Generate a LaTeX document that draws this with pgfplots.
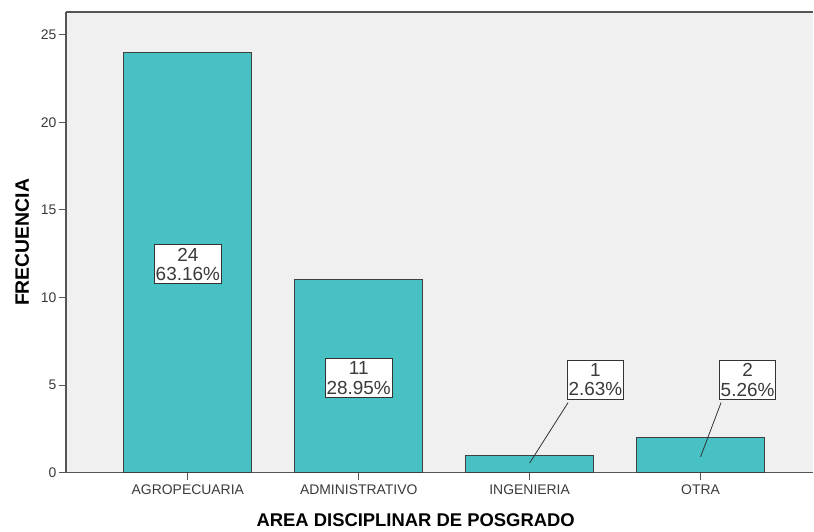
\documentclass[border=0pt]{standalone}
\usepackage{fontspec}
\setmainfont{Liberation Sans}
\usepackage{pgfplots}
\pgfplotsset{compat=1.18}

\definecolor{barfill}{HTML}{47C1C4}
\definecolor{plotbg}{HTML}{F0F0F0}
\definecolor{axisgray}{HTML}{555555}
\definecolor{txtgray}{HTML}{3A3A3A}

\begin{document}
\begin{tikzpicture}
\begin{axis}[
    scale only axis,
    width=748bp, height=461bp,
    xmin=-0.713, xmax=3.66,
    ymin=0, ymax=26.3,
    axis x line*=bottom,
    axis y line*=left,
    axis line style={axisgray, line width=1.3pt},
    axis background/.style={fill=plotbg},
    xtick={0,1,2,3},
    xticklabels={AGROPECUARIA, ADMINISTRATIVO, INGENIERIA, OTRA},
    ytick={0,5,10,15,20,25},
    tick align=outside,
    tick style={axisgray, line width=1pt},
    major tick length=7bp,
    tick label style={font=\fontsize{14}{15}\selectfont, text=txtgray},
    xticklabel style={yshift=-2bp},
    yticklabel style={xshift=1bp},
    /pgf/number format/assume math mode=true,
    xlabel={\textbf{AREA DISCIPLINAR DE POSGRADO}},
    ylabel={\textbf{FRECUENCIA}},
    xlabel style={font=\fontsize{18.5}{20}\selectfont, yshift=-12bp, xshift=-24bp},
    ylabel style={font=\fontsize{19.5}{21}\selectfont, yshift=5bp},
    clip=false,
    ybar,
    bar width=0.75,
]
\addplot[fill=barfill, draw=black!75, line width=1pt] coordinates {(0,24) (1,11) (2,1) (3,2)};

\draw[axisgray, line width=1.3pt] (rel axis cs:0,1) -- (rel axis cs:1,1);

\tikzset{lbl/.style={draw=black!80, fill=white, line width=0.8pt, align=center,
  font=\fontsize{19}{19.5}\selectfont, text=txtgray, inner xsep=1.5bp, inner ysep=3bp}}
\node[lbl] at (axis cs:0,11.9) {24\\63.16\%};
\node[lbl] at (axis cs:1,5.4) {11\\28.95\%};
\draw[black!80, line width=0.8pt] (axis cs:2,0.55) -- (axis cs:2.225,4.0);
\node[lbl] at (axis cs:2.385,5.3) {1\\2.63\%};
\draw[black!80, line width=0.8pt] (axis cs:3,0.9) -- (axis cs:3.12,4.0);
\node[lbl] at (axis cs:3.275,5.3) {2\\5.26\%};
\end{axis}
\path ([xshift=-66bp,yshift=-59bp]current axis.south west) rectangle ([yshift=12bp]current axis.north east);
\end{tikzpicture}
\end{document}
